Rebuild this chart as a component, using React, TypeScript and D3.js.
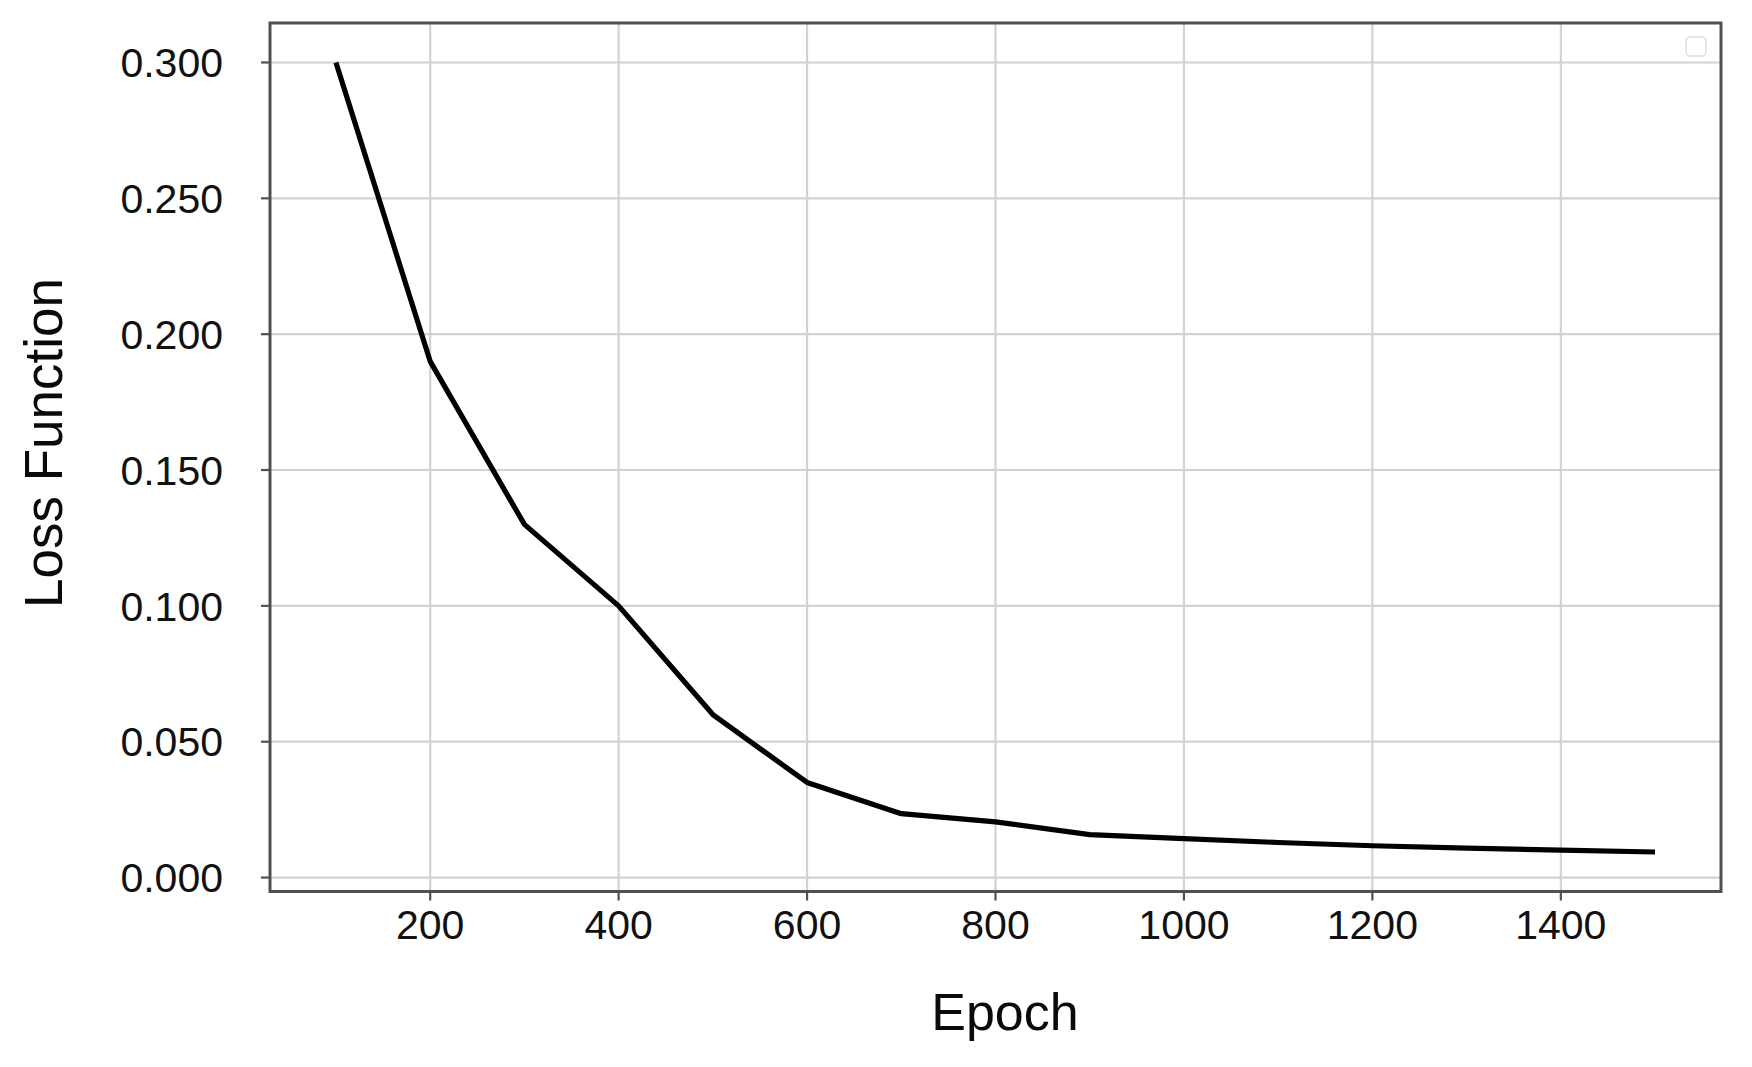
import React from "react";
import * as d3 from "d3";

const epochs = [100, 200, 300, 400, 500, 600, 700, 800, 900, 1000, 1100, 1200, 1300, 1400, 1500];
const lossValues = [0.300, 0.190, 0.130, 0.100, 0.060, 0.035, 0.0235, 0.0205, 0.0158, 0.0143, 0.0129, 0.0117, 0.0108, 0.0101, 0.0094];
const xTicks = [200, 400, 600, 800, 1000, 1200, 1400];
const yTicks = [0, 0.05, 0.1, 0.15, 0.2, 0.25, 0.3];
const xLabel = "Epoch";
const yLabel = "Loss Function";

const W = 1752;
const H = 1067;
const left = 270;
const right = 1721;
const top = 23;
const bottom = 891.5;
const FONT = "'Liberation Sans', Arial, Helvetica, sans-serif";

export default function App() {
  const xMin = d3.min(epochs)!;
  const xMax = d3.max(epochs)!;
  const yMin = d3.min(lossValues)!;
  const yMax = d3.max(lossValues)!;
  const xm = (xMax - xMin) * 0.05;
  const ym = (yMax - yMin) * 0.05;
  const x = d3.scaleLinear().domain([xMin - xm, xMax + xm]).range([left, right]);
  const y = d3.scaleLinear().domain([yMin - ym, yMax + ym]).range([bottom, top]);
  const line = d3
    .line<number>()
    .x((_, i) => x(epochs[i]))
    .y((d) => y(d));
  const fmt = d3.format(".3f");
  const frame = "#505050";
  const grid = "#d2d2d2";

  return (
    <svg
      width={W}
      height={H}
      style={{ position: "absolute", left: 0, top: 0, background: "#fff" }}
      fontFamily={FONT}
    >
      <rect x={0} y={0} width={W} height={H} fill="#fff" />
      {xTicks.map((t) => (
        <line key={"gx" + t} x1={x(t)} x2={x(t)} y1={top} y2={bottom} stroke={grid} strokeWidth={2.2} />
      ))}
      {yTicks.map((t) => (
        <line key={"gy" + t} x1={left} x2={right} y1={y(t)} y2={y(t)} stroke={grid} strokeWidth={2.2} />
      ))}
      <path
        d={line(lossValues) || ""}
        fill="none"
        stroke="#000"
        strokeWidth={5.2}
        strokeLinejoin="round"
        strokeLinecap="butt"
      />
      <rect x={left} y={top} width={right - left} height={bottom - top} fill="none" stroke={frame} strokeWidth={3} />
      {xTicks.map((t) => (
        <g key={"tx" + t}>
          <line x1={x(t)} x2={x(t)} y1={bottom} y2={bottom + 9} stroke={frame} strokeWidth={2.2} />
          <text x={x(t)} y={939} textAnchor="middle" fontSize={41} fill="#111">
            {t}
          </text>
        </g>
      ))}
      {yTicks.map((t) => (
        <g key={"ty" + t}>
          <line x1={left - 9} x2={left} y1={y(t)} y2={y(t)} stroke={frame} strokeWidth={2.2} />
          <text x={223} y={y(t)} dy="0.36em" textAnchor="end" fontSize={41} fill="#111">
            {fmt(t)}
          </text>
        </g>
      ))}
      <rect x={1686} y={37} width={20} height={19} rx={4} fill="#fff" stroke="#dcdcdc" strokeWidth={1.5} />
      <text x={1005} y={1030} textAnchor="middle" fontSize={52} fill="#0a0a0a">
        {xLabel}
      </text>
      <text
        transform={`translate(62, 443) rotate(-90)`}
        textAnchor="middle"
        fontSize={53}
        fill="#0a0a0a"
      >
        {yLabel}
      </text>
    </svg>
  );
}
